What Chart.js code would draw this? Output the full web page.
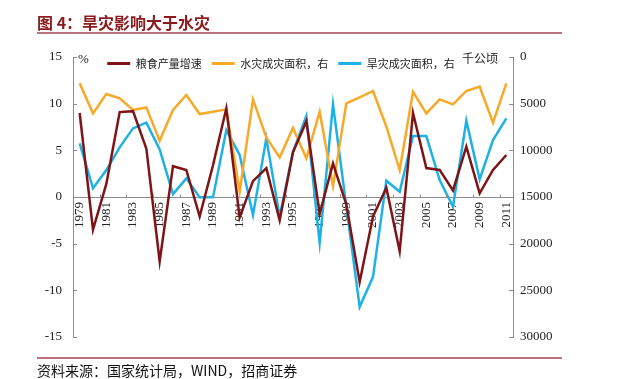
<!DOCTYPE html>
<html>
<head>
<meta charset="utf-8">
<script src="https://cdn.jsdelivr.net/npm/chart.js@4.4.1/dist/chart.umd.min.js"></script>
<style>
  html, body { margin: 0; padding: 0; background: #fff; }
  #wrap { position: relative; width: 629px; height: 379px; overflow: hidden; }
  #title { position: absolute; left: 37px; top: 14px; font: bold 16px/16px "Noto Sans CJK SC"; color: #8B1A1E; white-space: nowrap; }
  .rule { position: absolute; left: 37px; width: 525px; height: 2px; background: #B8737C; }
  #source { position: absolute; left: 37px; top: 363px; font: 14px/14px "Noto Sans CJK SC"; color: #111; white-space: nowrap; }
  #chart { position: absolute; left: 0; top: 0; }
</style>
</head>
<body>
<div id="wrap">
  <canvas id="chart" width="629" height="379"></canvas>
  <div id="title">图 4：旱灾影响大于水灾</div>
  <div class="rule" style="top:32px"></div>
  <div class="rule" style="top:357px"></div>
  <div id="source">资料来源：国家统计局，WIND，招商证券</div>
</div>
<script>
// years on the x axis
const years = ['1979','1980','1981','1982','1983','1984','1985','1986','1987','1988','1989',
               '1990','1991','1992','1993','1994','1995','1996','1997','1998','1999','2000',
               '2001','2002','2003','2004','2005','2006','2007','2008','2009','2010','2011'];

// grain output growth, % (left axis)
const grainGrowth = [9.0, -3.5, 1.4, 9.1, 9.2, 5.2, -6.9, 3.3, 2.9, -2.1, 3.4,
                     9.5, -2.2, 1.7, 3.1, -2.5, 4.8, 8.1, -1.8, 3.6, -0.8, -9.1,
                     -2.1, 1.0, -5.8, 9.0, 3.1, 2.9, 0.7, 5.4, 0.4, 2.9, 4.5];

// flood disaster area, thousand hectares (right axis, reversed)
const floodArea = [2820, 6040, 3970, 4430, 5680, 5400, 8970, 5680, 4070, 6110, 5860,
                   5610, 14440, 4540, 8610, 10750, 7600, 10860, 5860, 13830, 4970, 4320,
                   3640, 7440, 12110, 3720, 6040, 4540, 5070, 3640, 3180, 7040, 2820];

// drought disaster area, thousand hectares (right axis, reversed)
const droughtArea = [9250, 14070, 12110, 9680, 7650, 7040, 9900, 14690, 13000, 15040, 15040,
                     7830, 10500, 16940, 8720, 17120, 10150, 6320, 19900, 5070, 16000, 26770,
                     23550, 13250, 14440, 8470, 8470, 13180, 16040, 6830, 13110, 8900, 6570];

const seriesNames = ['粮食产量增速', '水灾成灾面积，右', '旱灾成灾面积，右'];
const seriesColors = ['#7E1416', '#F7A928', '#1EB1E6'];
const axisColor = '#8c8c8c';
const serif = '"Liberation Serif", "Times New Roman", serif';
const cjk = '"Noto Sans CJK SC", sans-serif';

// small inward tick marks and the unit labels
const innerTicks = {
    id: 'innerTicks',
    afterDraw(chart) {
        const { ctx, chartArea, scales } = chart;
        ctx.save();
        ctx.strokeStyle = axisColor;
        ctx.lineWidth = 1;
        ctx.beginPath();
        scales.y.ticks.forEach(t => {
            const py = Math.round(scales.y.getPixelForValue(t.value)) + 0.5;
            ctx.moveTo(chartArea.left, py);
            ctx.lineTo(chartArea.left + 4, py);
        });
        scales.y1.ticks.forEach(t => {
            const py = Math.round(scales.y1.getPixelForValue(t.value)) + 0.5;
            ctx.moveTo(chartArea.right, py);
            ctx.lineTo(chartArea.right - 4, py);
        });
        const zeroY = Math.round(scales.y.getPixelForValue(0)) + 0.5;
        years.forEach((yr, i) => {
            if (i > 0 && i % 2 === 0) {
                const px = Math.round((scales.x.getPixelForValue(i) + scales.x.getPixelForValue(i - 1)) / 2) + 0.5;
                ctx.moveTo(px, zeroY);
                ctx.lineTo(px, zeroY - 3);
            }
        });
        ctx.stroke();

        ctx.fillStyle = '#222';
        ctx.textBaseline = 'middle';
        ctx.font = '13px ' + serif;
        ctx.textAlign = 'left';
        ctx.fillText('%', chartArea.left + 5, chartArea.top + 3);
        ctx.font = '12px ' + cjk;
        ctx.textAlign = 'right';
        ctx.fillText('千公顷', chartArea.right - 15, chartArea.top + 1);
        ctx.restore();
    }
};

// legend lives inside the plot area but laid out in one row, nudged to where the original sits
const legendShift = {
    id: 'legendShift',
    beforeLayout(chart) {
        chart.legend.isHorizontal = () => true;
    },
    afterLayout(chart) {
        const lg = chart.legend;
        const area = chart.chartArea;
        lg.top = area.top - 9;
        lg.bottom = lg.top + lg.height;
        lg.left = area.left - 12;
        lg.right = area.right - 12;
    }
};

new Chart(document.getElementById('chart'), {
    type: 'line',
    data: {
        labels: years,
        datasets: [
            { label: seriesNames[0], data: grainGrowth, yAxisID: 'y' },
            { label: seriesNames[1], data: floodArea, yAxisID: 'y1' },
            { label: seriesNames[2], data: droughtArea, yAxisID: 'y1' }
        ].map((ds, i) => Object.assign(ds, {
            borderColor: seriesColors[i],
            backgroundColor: seriesColors[i],
            borderWidth: 2.5,
            pointRadius: 0,
            tension: 0,
            fill: false
        }))
    },
    options: {
        responsive: false,
        animation: false,
        layout: { padding: { left: 0, right: 0, top: 57, bottom: 42 } },
        plugins: {
            title: { display: false },
            tooltip: { enabled: false },
            legend: {
                position: 'chartArea',
                align: 'center',
                labels: {
                    boxWidth: 23,
                    boxHeight: 3,
                    padding: 10,
                    color: '#222',
                    font: { family: cjk, size: 11 },
                    generateLabels: chart => Chart.defaults.plugins.legend.labels.generateLabels(chart)
                        .map(l => Object.assign(l, { lineWidth: 0, fillStyle: l.strokeStyle }))
                }
            }
        },
        scales: {
            x: {
                type: 'category',
                position: { y: 0 },
                offset: true,
                grid: { display: false, drawTicks: false },
                border: { display: true, color: axisColor, width: 1 },
                ticks: {
                    autoSkip: false,
                    minRotation: 90,
                    maxRotation: 90,
                    padding: 5,
                    color: '#222',
                    font: { family: serif, size: 13 },
                    callback: function(value, index) {
                        return index % 2 === 0 ? this.getLabelForValue(value) : '';
                    }
                }
            },
            y: {
                position: 'left',
                min: -15,
                max: 15,
                grid: { display: false, drawTicks: false },
                border: { display: true, color: axisColor, width: 1 },
                ticks: { stepSize: 5, padding: 11, color: '#222', font: { family: serif, size: 13 } },
                afterFit: scale => { scale.width = 73; }
            },
            y1: {
                position: 'right',
                reverse: true,
                min: 0,
                max: 30000,
                grid: { display: false, drawTicks: false },
                border: { display: true, color: axisColor, width: 1 },
                ticks: {
                    stepSize: 5000, padding: 7, color: '#222', font: { family: serif, size: 13 },
                    callback: value => String(value)
                },
                afterFit: scale => { scale.width = 116; }
            }
        }
    },
    plugins: [innerTicks, legendShift]
});
</script>
</body>
</html>
